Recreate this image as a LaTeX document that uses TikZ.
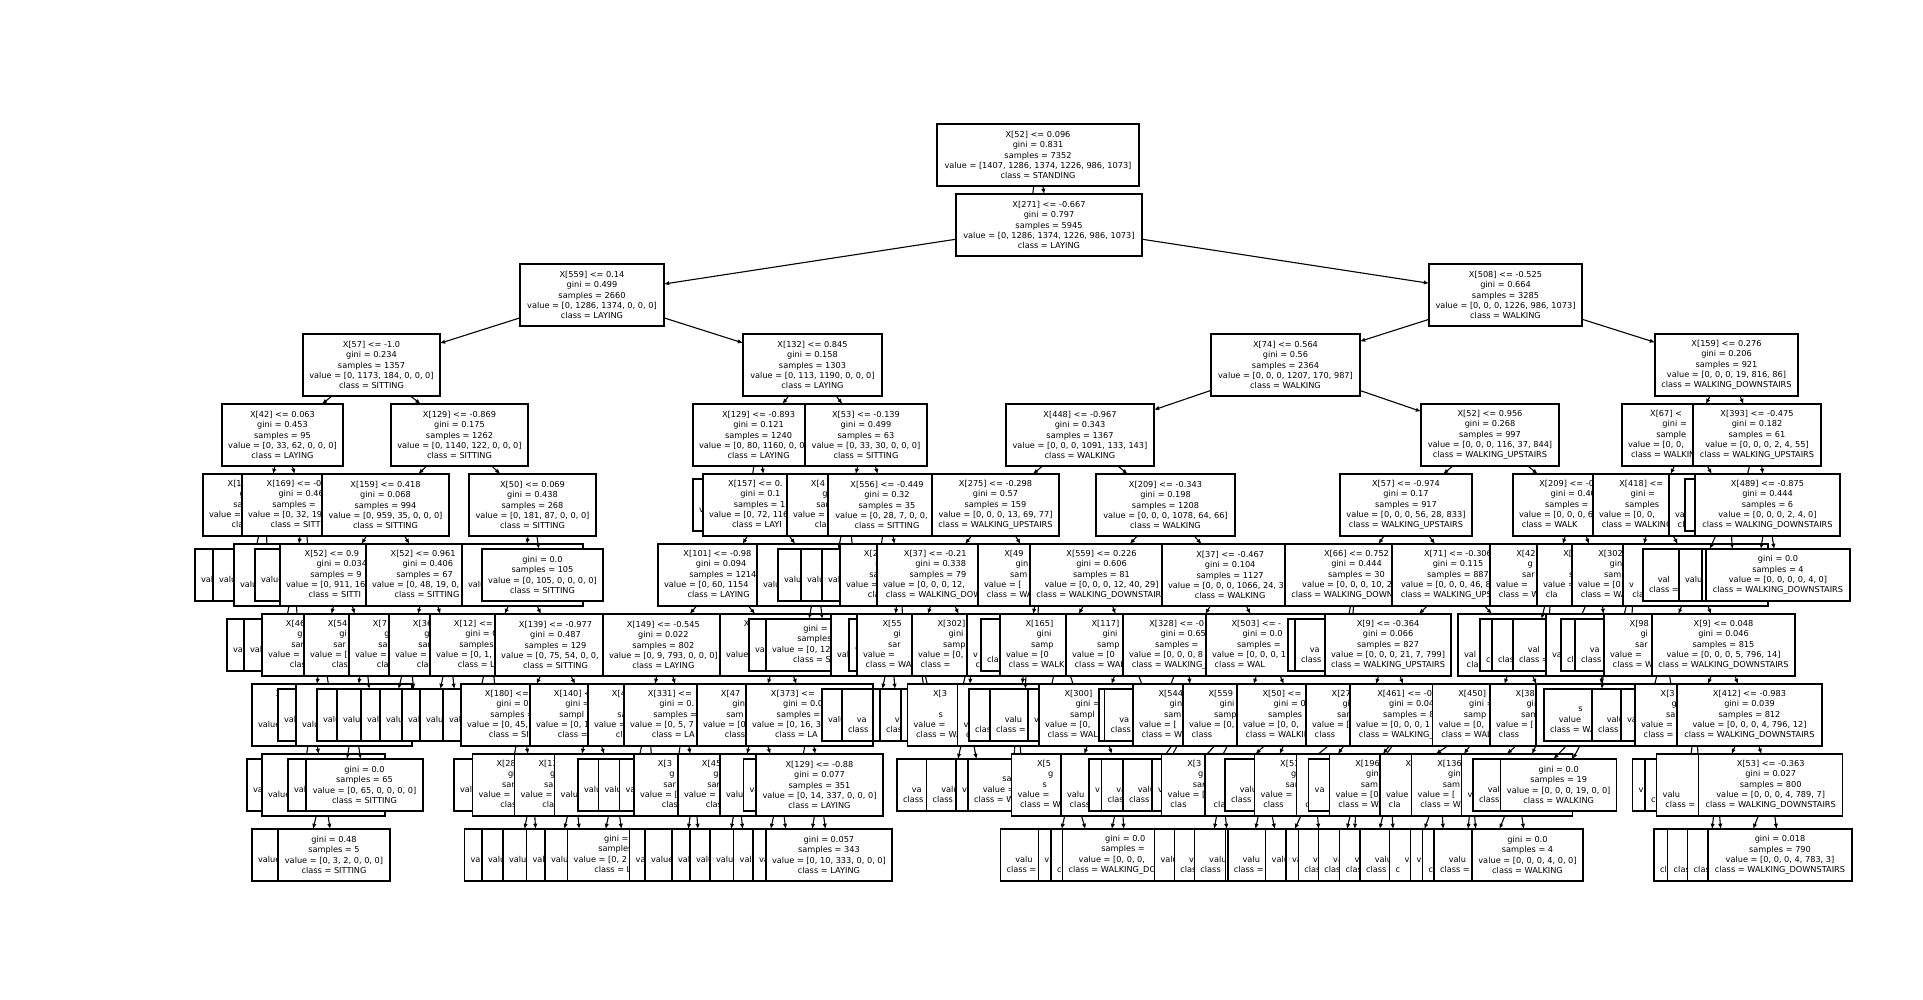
\documentclass[tikz,border=0pt]{standalone}
\usepackage{fontspec}
\setmainfont{DejaVu Sans}
\usetikzlibrary{arrows.meta}
\newlength\bw
\newcommand\fr[2]{\rlap{#1}\phantom{#2}}
\newcommand\fw[2]{\makebox[#1\bw][l]{\strut#2}}
\newcommand\cdl[5]{\fw{.67}{#1}\\\fw{.46}{#2}\\\fw{.57}{#3}\\\fw{1}{#4}\\\fw{.6}{#5}}
\newcommand\cdr[5]{\fw{.64}{#1}\\\fw{.44}{#2}\\\fw{.54}{#3}\\\fw{1}{#4}\\\fw{.95}{#5}}
\newcommand\cll[4]{\fw{.41}{#1}\\\fw{.52}{#2}\\\fw{1}{#3}\\\fw{.6}{#4}}
\newcommand\clr[4]{\fw{.41}{#1}\\\fw{.52}{#2}\\\fw{1}{#3}\\\fw{.75}{#4}}
\newcommand\cld[4]{\fw{.35}{#1}\\\fw{.42}{#2}\\\fw{.82}{#3}\\\fw{1}{#4}}
\tikzset{
  tbox/.style={draw=black, fill=white, line width=0.7pt, inner xsep=3pt, inner ysep=1pt,
    outer sep=0pt, anchor=west, align=center, font=\fontsize{4.1}{5.1}\selectfont},
  tdec/.style={tbox, minimum height=31pt},
  tleaf/.style={tbox, minimum height=26pt},
  tarr/.style={-{Latex[length=2.6pt,width=2.2pt]}, line width=0.55pt}
}
\newcommand\ND[6]{\pgfmathsetlength\bw{(#5-12)*0.5pt}\node[tdec,minimum width={#5*0.5pt}] (#1) at ({#3},{155+70*#4}) {#6};\draw[tarr] (#2) -- (#1);}
\newcommand\NL[6]{\pgfmathsetlength\bw{(#5-12)*0.5pt}\node[tleaf,minimum width={#5*0.5pt}] (#1) at ({#3},{155+70*#4}) {#6};\draw[tarr] (#2) -- (#1);}
\begin{document}
\begin{tikzpicture}[x=0.5pt,y=-0.5pt]
\useasboundingbox (0,0) rectangle (1923,1000);
\fill[white] (0,0) rectangle (1923,1000);
% row 0
\node[tdec, minimum width=101pt] (a0) at (937,155) {X[52] <= 0.096\\gini = 0.831\\samples = 7352\\value = [1407, 1286, 1374, 1226, 986, 1073]\\class = STANDING};
% row 1
\NL{b1}{a0}{964}{1}{129}{}
\ND{b2}{a0}{956}{1}{186}{X[271] <= -0.667\\gini = 0.797\\samples = 5945\\value = [0, 1286, 1374, 1226, 986, 1073]\\class = LAYING}
% row 2
\ND{c1}{b2}{520}{2}{144}{X[559] <= 0.14\\gini = 0.499\\samples = 2660\\value = [0, 1286, 1374, 0, 0, 0]\\class = LAYING}
\ND{c2}{b2}{1429}{2}{153}{X[508] <= -0.525\\gini = 0.664\\samples = 3285\\value = [0, 0, 0, 1226, 986, 1073]\\class = WALKING}
% row 3
\ND{d1}{c1}{303}{3}{137}{X[57] <= -1.0\\gini = 0.234\\samples = 1357\\value = [0, 1173, 184, 0, 0, 0]\\class = SITTING}
\ND{d2}{c1}{743}{3}{139}{X[132] <= 0.845\\gini = 0.158\\samples = 1303\\value = [0, 113, 1190, 0, 0, 0]\\class = LAYING}
\ND{d3}{c2}{1211}{3}{149}{X[74] <= 0.564\\gini = 0.56\\samples = 2364\\value = [0, 0, 0, 1207, 170, 987]\\class = WALKING}
\ND{d4}{c2}{1655}{3}{143}{X[159] <= 0.276\\gini = 0.206\\samples = 921\\value = [0, 0, 0, 19, 816, 86]\\class = WALKING\_DOWNSTAIRS}
% row 4
\ND{e1}{d1}{222}{4}{121}{X[42] <= 0.063\\gini = 0.453\\samples = 95\\value = [0, 33, 62, 0, 0, 0]\\class = LAYING}
\ND{e2}{d1}{391}{4}{137}{X[129] <= -0.869\\gini = 0.175\\samples = 1262\\value = [0, 1140, 122, 0, 0, 0]\\class = SITTING}
\ND{e3}{d2}{693}{4}{130}{X[129] <= -0.893\\gini = 0.121\\samples = 1240\\\fr{value = [0, 80, 1160, 0, 0}{value = [0, 80, 1160, 0, 0, 0]}\\class = LAYING}
\ND{e4}{d2}{805}{4}{122}{X[53] <= -0.139\\gini = 0.499\\samples = 63\\value = [0, 33, 30, 0, 0, 0]\\class = SITTING}
\ND{e5}{d3}{1006}{4}{148}{X[448] <= -0.967\\gini = 0.343\\samples = 1367\\value = [0, 0, 0, 1091, 133, 143]\\class = WALKING}
\ND{e6}{d3}{1421}{4}{138}{X[52] <= 0.956\\gini = 0.268\\samples = 997\\value = [0, 0, 0, 116, 37, 844]\\class = WALKING\_UPSTAIRS}
\ND{e7}{d4}{1622}{4}{135}{\cdr{X[67] <}{gini =}{sample}{value = [0, 0,}{class = WALKIN}}
\ND{e8}{d4}{1693}{4}{128}{X[393] <= -0.475\\gini = 0.182\\samples = 61\\value = [0, 0, 0, 2, 4, 55]\\class = WALKING\_UPSTAIRS}
% row 5
\ND{f1}{e1}{203}{5}{125}{\cdl{X[1}{gi}{sa}{value =}{cla}}
\ND{f2}{e1}{242}{5}{125}{\cdl{X[169] <= -0.}{gini = 0.46}{samples =}{value = [0, 32, 19}{class = SITTI}}
\ND{f3}{e2}{322}{5}{127}{X[159] <= 0.418\\gini = 0.068\\samples = 994\\value = [0, 959, 35, 0, 0, 0]\\class = SITTING}
\ND{f4}{e2}{469}{5}{127}{X[50] <= 0.069\\gini = 0.438\\samples = 268\\value = [0, 181, 87, 0, 0, 0]\\class = SITTING}
\NL{f5}{e3}{693}{5}{110}{\cll{}{}{v}{}}
\ND{f6}{e3}{703}{5}{128}{\cdl{X[157] <= 0.}{gini = 0.1}{samples = 1}{value = [0, 72, 116}{class = LAYI}}
\ND{f7}{e4}{787}{5}{121}{\cdl{X[4}{gi}{sar}{value =}{clas}}
\ND{f8}{e4}{828}{5}{118}{X[556] <= -0.449\\gini = 0.32\\samples = 35\\\fr{value = [0, 28, 7, 0, 0,}{value = [0, 28, 7, 0, 0, 0]}\\class = SITTING}
\ND{f9}{e5}{932}{5}{127}{X[275] <= -0.298\\gini = 0.57\\samples = 159\\value = [0, 0, 0, 13, 69, 77]\\class = WALKING\_UPSTAIRS}
\ND{f10}{e5}{1096}{5}{139}{X[209] <= -0.343\\gini = 0.198\\samples = 1208\\value = [0, 0, 0, 1078, 64, 66]\\class = WALKING}
\ND{f11}{e6}{1340}{5}{132}{X[57] <= -0.974\\gini = 0.17\\samples = 917\\value = [0, 0, 0, 56, 28, 833]\\class = WALKING\_UPSTAIRS}
\ND{f12}{e6}{1513}{5}{125}{\cdr{X[209] <= -0.}{gini = 0.40}{samples =}{value = [0, 0, 0, 6}{class = WALK}}
\ND{f13}{e7}{1593}{5}{125}{\cdr{X[418] <=}{gini =}{samples}{value = [0, 0,}{class = WALKING}}
\ND{f14}{e7}{1669}{5}{121}{\cdr{}{}{}{va}{cl}}
\NL{f15}{e8}{1685}{5}{110}{\clr{}{}{}{}}
\ND{f16}{e8}{1695}{5}{145}{X[489] <= -0.875\\gini = 0.444\\samples = 6\\value = [0, 0, 0, 2, 4, 0]\\class = WALKING\_DOWNSTAIRS}
% row 6
\NL{g1}{f1}{195}{6}{110}{\cll{}{}{val}{}}
\NL{g2}{f1}{213}{6}{110}{\cll{}{}{valu}{}}
\ND{g3}{f2}{234}{6}{121}{\cdl{}{}{}{valu}{}}
\NL{g4}{f2}{255}{6}{110}{\cll{}{}{value}{}}
\ND{g5}{f3}{280}{6}{125}{\cdl{X[52] <= 0.9}{gini = 0.034}{samples = 9}{value = [0, 911, 16}{class = SITTI}}
\ND{g6}{f3}{366}{6}{125}{\cdl{X[52] <= 0.961}{gini = 0.406}{samples = 67}{value = [0, 48, 19, 0,}{class = SITTING}}
\ND{g7}{f4}{462}{6}{121}{\cdl{}{}{}{valu}{}}
\NL{g8}{f4}{482}{6}{121}{gini = 0.0\\samples = 105\\value = [0, 105, 0, 0, 0, 0]\\class = SITTING}
\ND{g9}{f6}{658}{6}{130}{\cdl{X[101] <= -0.98}{gini = 0.094}{samples = 1214}{value = [0, 60, 1154}{class = LAYING}}
\ND{g10}{f6}{757}{6}{121}{\cdl{}{}{}{valu}{}}
\NL{g11}{f7}{778}{6}{110}{\cll{}{}{valu}{}}
\NL{g12}{f7}{801}{6}{110}{\cll{}{}{valu}{}}
\NL{g13}{f8}{822}{6}{110}{\cll{}{}{val}{}}
\ND{g14}{f8}{840}{6}{121}{\cdl{X[2}{g}{sa}{value =}{cla}}
\ND{g15}{f9}{877}{6}{128}{\cdr{X[37] <= -0.21}{gini = 0.338}{samples = 79}{value = [0, 0, 0, 12,}{class = WALKING\_DOW}}
\ND{g16}{f9}{978}{6}{125}{\cdr{X[49}{gin}{sam}{value = [}{class = WA}}
\ND{g17}{f10}{1030}{6}{143}{X[559] <= 0.226\\gini = 0.606\\samples = 81\\value = [0, 0, 0, 12, 40, 29]\\\fr{class = WALKING\_DOWNSTAIR}{class = WALKING\_DOWNSTAIRS}}
\ND{g18}{f10}{1162}{6}{131}{X[37] <= -0.467\\gini = 0.104\\samples = 1127\\\fr{value = [0, 0, 0, 1066, 24, 3}{value = [0, 0, 0, 1066, 24, 37]}\\class = WALKING}
\ND{g19}{f11}{1285}{6}{143}{X[66] <= 0.752\\gini = 0.444\\samples = 30\\\fr{value = [0, 0, 0, 10, 2}{value = [0, 0, 0, 10, 20, 0]}\\\fr{class = WALKING\_DOWN}{class = WALKING\_DOWNSTAIRS}}
\ND{g20}{f11}{1392}{6}{132}{X[71] <= -0.306\\gini = 0.115\\samples = 887\\\fr{value = [0, 0, 0, 46, 8}{value = [0, 0, 0, 46, 8, 833]}\\\fr{class = WALKING\_UPS}{class = WALKING\_UPSTAIRS}}
\ND{g21}{f12}{1490}{6}{125}{\cdr{X[42}{g}{sar}{value =}{class = W}}
\ND{g22}{f12}{1537}{6}{125}{\cdr{X[5}{g}{sa}{value =}{cla}}
\ND{g23}{f13}{1572}{6}{125}{\cdr{X[302}{gin}{sam}{value = [0}{class = WA}}
\ND{g24}{f13}{1623}{6}{145}{\cdr{}{}{}{v}{clas}}
\NL{g25}{f14}{1643}{6}{110}{\cld{}{}{val}{class =}}
\NL{g26}{f14}{1679}{6}{110}{\clr{}{}{valu}{}}
\NL{g27}{f16}{1702}{6}{110}{\clr{}{}{}{}}
\NL{g28}{f16}{1706}{6}{144}{gini = 0.0\\samples = 4\\value = [0, 0, 0, 0, 4, 0]\\class = WALKING\_DOWNSTAIRS}
% row 7
\NL{h1}{g3}{227}{7}{110}{\cll{}{}{val}{}}
\NL{h2}{g3}{244}{7}{110}{\cll{}{}{val}{}}
\ND{h3}{g5}{262}{7}{121}{\cdl{X[46}{gi}{sar}{value =}{clas}}
\ND{h4}{g5}{304}{7}{121}{\cdl{X[54}{gi}{sar}{value = [}{clas}}
\ND{h5}{g6}{349}{7}{121}{\cdl{X[7}{gi}{sar}{value =}{clas}}
\ND{h6}{g6}{389}{7}{121}{\cdl{X[36}{gi}{sar}{value =}{clas}}
\ND{h7}{g7}{430}{7}{121}{\cdl{X[12] <=}{gini = 0}{samples}{value = [0, 1,}{class = L}}
\ND{h8}{g7}{495}{7}{121}{X[139] <= -0.977\\gini = 0.487\\samples = 129\\\fr{value = [0, 75, 54, 0, 0,}{value = [0, 75, 54, 0, 0, 0]}\\class = SITTING}
\ND{h9}{g9}{603}{7}{118}{X[149] <= -0.545\\gini = 0.022\\samples = 802\\value = [0, 9, 793, 0, 0, 0]\\class = LAYING}
\ND{h10}{g9}{720}{7}{121}{\cdl{X}{}{}{value}{}}
\NL{h11}{g10}{749}{7}{110}{\cll{}{}{val}{}}
\NL{h12}{g10}{766}{7}{118}{\cll{gini =}{samples}{value = [0, 12}{class = S}}
\ND{h13}{g14}{831}{7}{121}{\cdl{}{}{}{val}{}}
\NL{h14}{g14}{849}{7}{110}{\cll{}{}{v}{}}
\ND{h15}{g15}{857}{7}{121}{\cdr{X[55}{gi}{sar}{value =}{class = WAL}}
\ND{h16}{g15}{912}{7}{121}{\cdr{X[302] <}{gini =}{sampl}{value = [0, 0}{class =}}
\ND{h17}{g16}{967}{7}{121}{\cdr{}{}{}{v}{cl}}
\NL{h18}{g16}{981}{7}{110}{\cld{}{}{}{clas}}
\ND{h19}{g17}{1000}{7}{121}{\cdr{X[165]}{gini}{samp}{value = [0}{class = WALKI}}
\ND{h20}{g17}{1066}{7}{121}{\cdr{X[117]}{gini}{samp}{value = [0}{class = WAL}}
\ND{h21}{g18}{1123}{7}{125}{\cdr{X[328] <= -0}{gini = 0.65}{samples =}{value = [0, 0, 0, 8}{class = WALKING\_}}
\ND{h22}{g18}{1206}{7}{121}{\cdr{X[503] <= -}{gini = 0.0}{samples =}{value = [0, 0, 0, 1}{class = WAL}}
\NL{h23}{g19}{1288}{7}{110}{\clr{}{}{}{}}
\NL{h24}{g19}{1295}{7}{110}{\cld{}{}{va}{class}}
\ND{h25}{g20}{1325}{7}{126}{X[9] <= -0.364\\gini = 0.066\\samples = 827\\value = [0, 0, 0, 21, 7, 799]\\class = WALKING\_UPSTAIRS}
\ND{h26}{g20}{1458}{7}{121}{\cdr{}{}{}{val}{clas}}
\NL{h27}{g21}{1480}{7}{110}{\cld{}{}{}{cl}}
\NL{h28}{g21}{1492}{7}{110}{\cld{}{}{}{clas}}
\NL{h29}{g22}{1513}{7}{110}{\cld{}{}{val}{class =}}
\ND{h30}{g22}{1546}{7}{121}{\cdr{}{}{}{va}{}}
\NL{h31}{g23}{1561}{7}{110}{\cld{}{}{}{cl}}
\NL{h32}{g23}{1575}{7}{110}{\cld{}{}{va}{class}}
\ND{h33}{g24}{1604}{7}{121}{\cdr{X[98}{gi}{sar}{value =}{class = W}}
\ND{h34}{g24}{1652}{7}{143}{X[9] <= 0.048\\gini = 0.046\\samples = 815\\value = [0, 0, 0, 5, 796, 14]\\class = WALKING\_DOWNSTAIRS}
% row 8
\ND{i1}{h3}{252}{8}{121}{\cdl{X}{}{}{value}{}}
\NL{i2}{h3}{278}{8}{110}{\cll{}{}{val}{}}
\ND{i3}{h4}{296}{8}{116}{\cdl{}{}{}{valu}{}}
\NL{i4}{h4}{317}{8}{110}{\cll{}{}{valu}{}}
\NL{i5}{h5}{337}{8}{110}{\cll{}{}{valu}{}}
\NL{i6}{h5}{361}{8}{110}{\cll{}{}{val}{}}
\NL{i7}{h6}{380}{8}{110}{\cll{}{}{valu}{}}
\NL{i8}{h6}{402}{8}{110}{\cll{}{}{val}{}}
\NL{i9}{h7}{420}{8}{110}{\cll{}{}{valu}{}}
\NL{i10}{h7}{443}{8}{110}{\cll{}{}{val}{}}
\ND{i11}{h8}{461}{8}{121}{\cdl{X[180] <= -}{gini = 0.1}{samples =}{value = [0, 45,}{class = SIT}}
\ND{i12}{h8}{530}{8}{121}{\cdl{X[140] <}{gini =}{sampl}{value = [0, 1}{class =}}
\ND{i13}{h9}{588}{8}{121}{\cdl{X[4}{g}{sa}{value =}{cla}}
\ND{i14}{h9}{624}{8}{121}{\cdl{X[331] <=}{gini = 0.}{samples =}{value = [0, 5, 7}{class = LA}}
\ND{i15}{h10}{697}{8}{121}{\cdl{X[47}{gin}{sam}{value = [0}{class}}
\ND{i16}{h10}{746}{8}{127}{\cdl{X[373] <=}{gini = 0.0}{samples =}{value = [0, 16, 3}{class = LA}}
\NL{i17}{h13}{822}{8}{110}{\cll{}{}{valu}{}}
\NL{i18}{h13}{842}{8}{110}{\cld{}{}{va}{class}}
\NL{i19}{h15}{873}{8}{110}{\cld{}{}{v}{cla}}
\NL{i20}{h15}{880}{8}{110}{\cld{}{}{val}{class}}
\NL{i21}{h16}{901}{8}{110}{\clr{}{}{}{}}
\ND{i22}{h16}{907.5}{8}{121}{\cdr{X[3}{}{s}{value =}{class = WA}}
\ND{i23}{h17}{957.5}{8}{121}{\cdr{}{}{}{v}{cl}}
\NL{i24}{h17}{969}{8}{110}{\cld{}{}{}{clas}}
\NL{i25}{h19}{990}{8}{110}{\cld{}{}{valu}{class =}}
\NL{i26}{h19}{1028}{8}{110}{\clr{}{}{v}{}}
\ND{i27}{h20}{1039}{8}{121}{\cdr{X[300]}{gini =}{sampl}{value = [0,}{class = WALK}}
\NL{i28}{h20}{1099}{8}{110}{\clr{}{}{}{}}
\NL{i29}{h21}{1104.5}{8}{110}{\cld{}{}{va}{class}}
\ND{i30}{h21}{1133}{8}{121}{\cdr{X[544}{gin}{sam}{value = [}{class = WA}}
\ND{i31}{h22}{1183}{8}{121}{\cdr{X[559}{gini}{samp}{value = [0,}{class}}
\ND{i32}{h22}{1237}{8}{121}{\cdr{X[50] <=}{gini = 0}{samples}{value = [0, 0,}{class = WALKIN}}
\ND{i33}{h25}{1306}{8}{121}{\cdr{X[274}{gi}{sam}{value = [}{class}}
\ND{i34}{h25}{1350}{8}{130}{\cdr{X[461] <= -0.}{gini = 0.04}{samples = 8}{value = [0, 0, 0, 1}{class = WALKING\_}}
\ND{i35}{h26}{1432.7}{8}{121}{\cdr{X[450]}{gini =}{samp}{value = [0,}{class = WAL}}
\ND{i36}{h26}{1490}{8}{121}{\cdr{X[382}{gin}{sam}{value = [}{class}}
\ND{i37}{h30}{1536}{8}{121}{\cdr{}{}{}{}{}}
\NL{i38}{h30}{1544}{8}{110}{\cld{}{s}{value}{class = WA}}
\NL{i39}{h33}{1592}{8}{110}{\cld{}{}{valu}{class}}
\NL{i40}{h33}{1621}{8}{110}{\clr{}{}{va}{}}
\ND{i41}{h34}{1635}{8}{121}{\cdr{X[3}{g}{sa}{value =}{class = W}}
\ND{i42}{h34}{1677}{8}{145}{X[412] <= -0.983\\gini = 0.039\\samples = 812\\value = [0, 0, 0, 4, 796, 12]\\class = WALKING\_DOWNSTAIRS}
% row 9
\NL{j1}{i1}{247}{9}{110}{\cll{}{}{va}{}}
\ND{j2}{i1}{262}{9}{123}{\cdl{X}{}{}{value}{}}
\NL{j3}{i3}{288}{9}{110}{\cll{}{}{val}{}}
\NL{j4}{i3}{306}{9}{117}{gini = 0.0\\samples = 65\\value = [0, 65, 0, 0, 0, 0]\\class = SITTING}
\NL{j5}{i11}{454}{9}{110}{\cll{}{}{val}{}}
\ND{j6}{i11}{472.6}{9}{121}{\cdl{X[28}{gi}{sar}{value =}{clas}}
\ND{j7}{i12}{514.6}{9}{121}{\cdl{X[13}{gi}{sar}{value =}{clas}}
\ND{j8}{i12}{554.7}{9}{121}{\cdl{X}{}{}{valu}{}}
\NL{j9}{i13}{578}{9}{110}{\cll{}{}{valu}{}}
\NL{j10}{i13}{598.5}{9}{110}{\cll{}{}{valu}{}}
\NL{j11}{i14}{619.5}{9}{110}{\cll{}{}{va}{}}
\ND{j12}{i14}{634}{9}{121}{\cdl{X[3}{g}{sar}{value = [}{clas}}
\ND{j13}{i15}{678}{9}{121}{\cdl{X[45}{gi}{sar}{value =}{clas}}
\ND{j14}{i15}{720}{9}{121}{\cdl{}{}{}{valu}{}}
\NL{j15}{i16}{743.6}{9}{110}{\cll{}{}{va}{}}
\ND{j16}{i16}{756}{9}{127}{X[129] <= -0.88\\gini = 0.077\\samples = 351\\value = [0, 14, 337, 0, 0, 0]\\class = LAYING}
\NL{j17}{i22}{897}{9}{110}{\cld{}{}{va}{class}}
\NL{j18}{i22}{926.5}{9}{110}{\cld{}{}{valu}{class}}
\NL{j19}{i23}{956}{9}{110}{\clr{}{}{va}{}}
\NL{j20}{i23}{968}{9}{110}{\cld{}{sa}{value =}{class = W}}
\ND{j21}{i27}{1011.5}{9}{121}{\cdr{X[5}{g}{s}{value =}{class = WA}}
\ND{j22}{i27}{1061}{9}{121}{\cdr{}{}{}{valu}{class}}
\NL{j23}{i30}{1089}{9}{110}{\clr{}{}{v}{}}
\NL{j24}{i30}{1101.5}{9}{110}{\cld{}{}{va}{clas}}
\NL{j25}{i31}{1123}{9}{110}{\cld{}{}{valu}{class}}
\NL{j26}{i31}{1152}{9}{110}{\clr{}{}{v}{}}
\ND{j27}{i32}{1161.7}{9}{121}{\cdr{X[3}{g}{sar}{value = [}{clas}}
\ND{j28}{i32}{1205}{9}{121}{\cdr{}{}{}{}{clas}}
\NL{j29}{i33}{1225}{9}{110}{\cld{}{}{valu}{class}}
\ND{j30}{i33}{1254.6}{9}{121}{\cdr{X[539}{g}{sam}{value =}{class}}
\ND{j31}{i34}{1296.7}{9}{121}{\cdr{}{}{}{}{cla}}
\NL{j32}{i34}{1308.7}{9}{110}{\clr{}{}{va}{}}
\ND{j33}{i35}{1329.7}{9}{121}{\cdr{X[196}{gin}{sam}{value = [0}{class = WA}}
\ND{j34}{i35}{1380}{9}{121}{\cdr{X[1}{}{s}{value =}{cla}}
\ND{j35}{i36}{1411.7}{9}{121}{\cdr{X[136}{gin}{sam}{value = [}{class = WA}}
\ND{j36}{i36}{1461.7}{9}{111}{\cdr{}{}{}{v}{}}
\NL{j37}{i37}{1473}{9}{110}{\cld{}{}{val}{class}}
\NL{j38}{i37}{1500.7}{9}{116}{gini = 0.0\\samples = 19\\value = [0, 0, 0, 19, 0, 0]\\class = WALKING}
\NL{j39}{i41}{1632.7}{9}{110}{\clr{}{}{va}{}}
\NL{j40}{i41}{1645}{9}{110}{\cld{}{}{}{cl}}
\ND{j41}{i42}{1656.7}{9}{121}{\cdr{}{}{}{valu}{class = W}}
\ND{j42}{i42}{1698.7}{9}{144}{X[53] <= -0.363\\gini = 0.027\\samples = 800\\value = [0, 0, 0, 4, 789, 7]\\class = WALKING\_DOWNSTAIRS}
% row 10
\NL{k1}{j2}{252}{10}{110}{\cll{}{}{value}{}}
\NL{k2}{j2}{278}{10}{112}{gini = 0.48\\samples = 5\\value = [0, 3, 2, 0, 0, 0]\\class = SITTING}
\NL{k3}{j6}{464.5}{10}{110}{\cll{}{}{val}{}}
\NL{k4}{j6}{482}{10}{110}{\cll{}{}{valu}{}}
\NL{k5}{j7}{503}{10}{110}{\cll{}{}{valu}{}}
\NL{k6}{j7}{526.6}{10}{110}{\cll{}{}{val}{}}
\NL{k7}{j8}{545}{10}{110}{\cll{}{}{valu}{}}
\NL{k8}{j8}{567.7}{10}{115}{\cll{gini = 0}{samples}{value = [0, 2}{class = L}}
\NL{k9}{j12}{629.7}{10}{110}{\cll{}{}{va}{}}
\NL{k10}{j12}{645}{10}{110}{\cll{}{}{value}{}}
\NL{k11}{j13}{672}{10}{110}{\cll{}{}{val}{}}
\NL{k12}{j13}{690}{10}{110}{\cll{}{}{valu}{}}
\NL{k13}{j14}{710}{10}{110}{\cll{}{}{valu}{}}
\NL{k14}{j14}{733.7}{10}{110}{\cll{}{}{valu}{}}
\NL{k15}{j16}{753}{10}{110}{\cll{}{}{va}{}}
\NL{k16}{j16}{766}{10}{124}{gini = 0.057\\samples = 343\\value = [0, 10, 333, 0, 0, 0]\\class = LAYING}
\NL{k17}{j21}{1000.5}{10}{110}{\cld{}{}{valu}{class =}}
\NL{k18}{j21}{1038.4}{10}{110}{\clr{}{}{va}{}}
\NL{k19}{j22}{1051}{10}{110}{\cld{}{}{}{cl}}
\NL{k20}{j22}{1062.5}{10}{125}{\cld{gini = 0.0}{samples =}{value = [0, 0, 0,}{class = WALKING\_DO}}
\NL{k21}{j27}{1154.5}{10}{110}{\clr{}{}{valu}{}}
\NL{k22}{j27}{1174.4}{10}{110}{\cld{}{}{v}{clas}}
\NL{k23}{j28}{1194.4}{10}{110}{\cld{}{}{valu}{class}}
\NL{k24}{j28}{1225.4}{10}{110}{\clr{}{}{}{}}
\NL{k25}{j30}{1227.8}{10}{110}{\cld{}{}{valu}{class =}}
\NL{k26}{j30}{1265.7}{10}{110}{\clr{}{}{valu}{}}
\NL{k27}{j31}{1286}{10}{110}{\clr{}{}{va}{}}
\NL{k28}{j31}{1298.4}{10}{110}{\cld{}{}{v}{clas}}
\NL{k29}{j33}{1318.4}{10}{110}{\cld{}{}{val}{clas}}
\NL{k30}{j33}{1339.7}{10}{110}{\cld{}{}{va}{clas}}
\NL{k31}{j34}{1360}{10}{110}{\cld{}{}{valu}{class}}
\NL{k32}{j34}{1389.7}{10}{110}{\cld{}{}{valu}{c}}
\NL{k33}{j35}{1410.7}{10}{110}{\clr{}{}{va}{}}
\NL{k34}{j35}{1422.7}{10}{110}{\cld{}{}{v}{cl}}
\NL{k35}{j36}{1434}{10}{110}{\cld{}{}{valu}{class =}}
\NL{k36}{j36}{1472}{10}{111}{gini = 0.0\\samples = 4\\value = [0, 0, 0, 4, 0, 0]\\class = WALKING}
\NL{k37}{j41}{1654}{10}{110}{\cld{}{}{}{cl}}
\NL{k38}{j41}{1667.7}{10}{110}{\cld{}{}{}{clas}}
\NL{k39}{j42}{1687.7}{10}{110}{\cld{}{}{}{clas}}
\NL{k40}{j42}{1708}{10}{144}{gini = 0.018\\samples = 790\\value = [0, 0, 0, 4, 783, 3]\\class = WALKING\_DOWNSTAIRS}
\end{tikzpicture}
\end{document}
